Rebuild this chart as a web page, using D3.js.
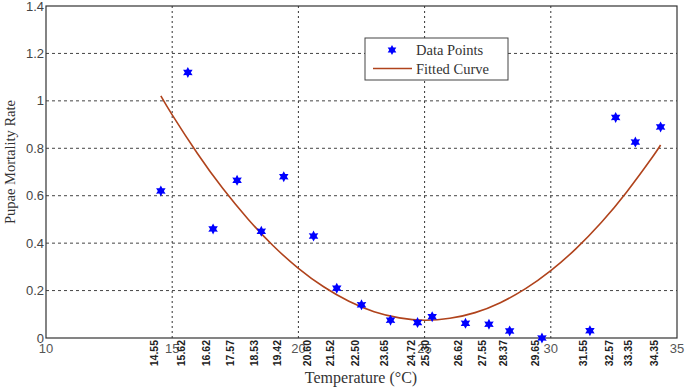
<!DOCTYPE html>
<html>
<head>
<meta charset="utf-8">
<script src="https://cdn.jsdelivr.net/npm/d3@7"></script>
<style>
  body { margin: 0; background: #fff; }
  svg { display: block; }
</style>
</head>
<body>
<svg id="chart" width="685" height="388"></svg>
<script>
// temperatures measured (also used as rotated tick labels)
const temps = [14.55, 15.62, 16.62, 17.57, 18.53, 19.42, 20.60, 21.52, 22.50, 23.65,
               24.72, 25.30, 26.62, 27.55, 28.37, 29.65, 31.55, 32.57, 33.35, 34.35];
const mortality = [0.62, 1.12, 0.46, 0.665, 0.45, 0.68, 0.43, 0.21, 0.14, 0.075,
                   0.065, 0.09, 0.062, 0.058, 0.03, 0.0, 0.031, 0.93, 0.826, 0.89];

// fitted curve
const curveX = [14.55, 15, 16, 17, 18, 19, 20, 21, 22, 23, 24, 25, 26, 27, 28, 29, 30, 31, 32, 33, 34, 34.35];
const curveY = [1.021, 0.941, 0.778, 0.631, 0.502, 0.389, 0.294, 0.216, 0.155, 0.111, 0.085,
                0.075, 0.083, 0.107, 0.149, 0.208, 0.284, 0.377, 0.487, 0.615, 0.759, 0.814];

const xTicks = [10, 15, 20, 25, 30, 35];
const yTicks = [0, 0.2, 0.4, 0.6, 0.8, 1, 1.2, 1.4];

const svg = d3.select("#chart");
const plotLeft = 46, plotRight = 677, plotTop = 6, plotBottom = 338;

const x = d3.scaleLinear().domain([10, 35]).range([plotLeft, plotRight]);
const y = d3.scaleLinear().domain([0, 1.4]).range([plotBottom, plotTop]);

// grid
svg.append("g")
    .selectAll("line")
    .data(yTicks.filter(d => d > 0 && d < 1.4))
    .enter()
    .append("line")
    .attr("x1", plotLeft).attr("x2", plotRight)
    .attr("y1", d => y(d)).attr("y2", d => y(d))
    .attr("stroke", "#444")
    .attr("stroke-dasharray", "3,3");

svg.append("g")
    .selectAll("line")
    .data(xTicks.filter(d => d > 10 && d < 35))
    .enter()
    .append("line")
    .attr("x1", d => x(d)).attr("x2", d => x(d))
    .attr("y1", plotTop).attr("y2", plotBottom)
    .attr("stroke", "#333")
    .attr("stroke-dasharray", "2,3");

// frame
svg.append("rect")
    .attr("x", plotLeft).attr("y", plotTop)
    .attr("width", plotRight - plotLeft).attr("height", plotBottom - plotTop)
    .attr("fill", "none")
    .attr("stroke", "#333")
    .attr("stroke-width", 1.2);

// y tick labels
svg.append("g")
    .selectAll("text")
    .data(yTicks)
    .enter()
    .append("text")
    .attr("x", plotLeft - 2)
    .attr("y", d => y(d) + 4.5)
    .attr("text-anchor", "end")
    .attr("font-family", "Liberation Sans, Arial, sans-serif")
    .attr("font-size", 13)
    .attr("fill", "#444")
    .text(d => d);

// x tick labels (plain)
svg.append("g")
    .selectAll("text")
    .data(xTicks)
    .enter()
    .append("text")
    .attr("x", d => x(d))
    .attr("y", plotBottom + 15)
    .attr("text-anchor", "middle")
    .attr("font-family", "Liberation Sans, Arial, sans-serif")
    .attr("font-size", 13)
    .attr("fill", "#555")
    .text(d => d);

// rotated temperature labels
svg.append("g")
    .selectAll("text")
    .data(temps)
    .enter()
    .append("text")
    .attr("transform", d => `translate(${x(d) - 3},${plotBottom + 2}) rotate(-90)`)
    .attr("text-anchor", "end")
    .attr("font-family", "Liberation Sans Narrow, Arial Narrow, Liberation Sans, sans-serif")
    .attr("font-weight", "bold")
    .attr("font-size", 10.5)
    .attr("fill", "#222")
    .text(d => d.toFixed(2));

// axis titles
svg.append("text")
    .attr("x", 361)
    .attr("y", 383)
    .attr("text-anchor", "middle")
    .attr("font-family", "Liberation Serif, Times New Roman, serif")
    .attr("font-size", 16)
    .attr("fill", "#333")
    .text("Temperature (°C)");

svg.append("text")
    .attr("transform", "translate(15,162) rotate(-90)")
    .attr("text-anchor", "middle")
    .attr("font-family", "Liberation Serif, Times New Roman, serif")
    .attr("font-size", 14.5)
    .attr("fill", "#333")
    .text("Pupae Mortality Rate");

// fitted curve
const line = d3.line()
    .x(d => x(d[0]))
    .y(d => y(d[1]))
    .curve(d3.curveNatural);

svg.append("path")
    .datum(curveX.map((d, i) => [d, curveY[i]]))
    .attr("d", line)
    .attr("fill", "none")
    .attr("stroke", "#b0431c")
    .attr("stroke-width", 1.6);

// six-point star marker
function starPath(r) {
    const pts = [];
    for (let i = 0; i < 12; i++) {
        const a = Math.PI / 6 * i - Math.PI / 2;
        const rr = i % 2 === 0 ? r : r * 0.55;
        pts.push([Math.cos(a) * rr, Math.sin(a) * rr]);
    }
    return "M" + pts.map(p => p.join(",")).join("L") + "Z";
}

svg.append("g")
    .selectAll("path")
    .data(temps.map((d, i) => [d, mortality[i]]))
    .enter()
    .append("path")
    .attr("transform", d => `translate(${x(d[0])},${y(d[1])})`)
    .attr("d", starPath(5.5))
    .attr("fill", "#0000ff");

// legend
const legend = svg.append("g");
legend.append("rect")
    .attr("x", 365).attr("y", 38)
    .attr("width", 143).attr("height", 42)
    .attr("fill", "#fff")
    .attr("stroke", "#444")
    .attr("stroke-width", 1);
legend.append("path")
    .attr("transform", "translate(392,50)")
    .attr("d", starPath(5))
    .attr("fill", "#0000ff");
legend.append("line")
    .attr("x1", 373).attr("x2", 412)
    .attr("y1", 68.5).attr("y2", 68.5)
    .attr("stroke", "#b0431c")
    .attr("stroke-width", 1.6);
legend.append("text")
    .attr("x", 416).attr("y", 55)
    .attr("font-family", "Liberation Serif, Times New Roman, serif")
    .attr("font-size", 14.5)
    .attr("fill", "#333")
    .text("Data Points");
legend.append("text")
    .attr("x", 416).attr("y", 73.5)
    .attr("font-family", "Liberation Serif, Times New Roman, serif")
    .attr("font-size", 14.5)
    .attr("fill", "#333")
    .text("Fitted Curve");
</script>
</body>
</html>
